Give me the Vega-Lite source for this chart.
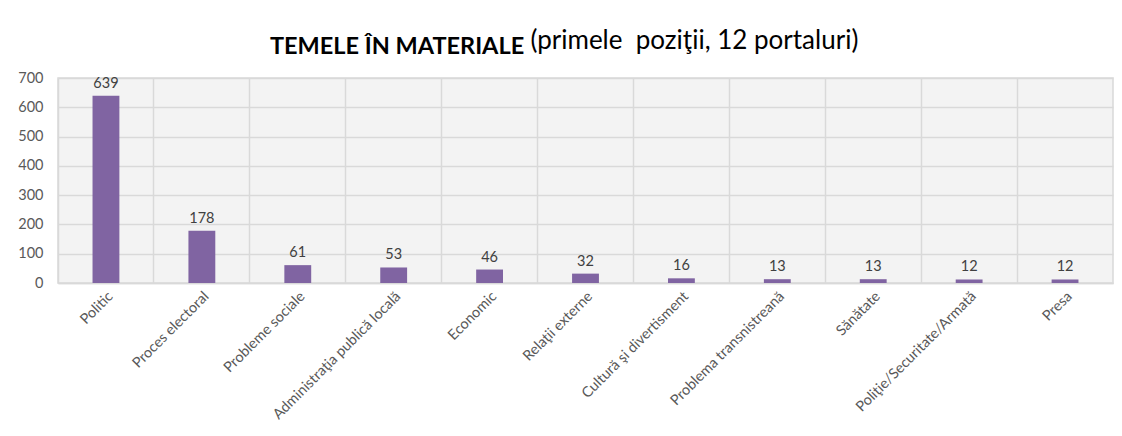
{
  "$schema": "https://vega.github.io/schema/vega-lite/v6.json",
  "width": 1055,
  "height": 205,
  "autosize": {"type": "none"},
  "padding": {"left": 58, "top": 78, "right": 9, "bottom": 153},
  "background": "white",
  "title": {
    "text": "TEMELE ÎN MATERIALE",
    "anchor": "start",
    "frame": "group",
    "dx": 212,
    "offset": -50,
    "baseline": "alphabetic",
    "font": "Lato",
    "fontSize": 23.5,
    "fontWeight": "bold",
    "color": "#000000"
  },
  "config": {
    "view": {"fill": "#f3f3f3", "stroke": "#d9d9d9", "strokeWidth": 1.5},
    "axis": {"labelFont": "Lato", "labelColor": "#595959", "labelFontSize": 14.5}
  },
  "data": {
    "values": [
      {"tema": "Politic", "n": 639},
      {"tema": "Proces electoral", "n": 178},
      {"tema": "Probleme sociale", "n": 61},
      {"tema": "Administraţia publică locală", "n": 53},
      {"tema": "Economic", "n": 46},
      {"tema": "Relaţii externe", "n": 32},
      {"tema": "Cultură şi divertisment", "n": 16},
      {"tema": "Problema transnistreană", "n": 13},
      {"tema": "Sănătate", "n": 13},
      {"tema": "Poliţie/Securitate/Armată", "n": 12},
      {"tema": "Presa", "n": 12}
    ]
  },
  "encoding": {
    "x": {
      "field": "tema",
      "type": "nominal",
      "sort": null,
      "scale": {"paddingInner": 0, "paddingOuter": 0},
      "axis": {
        "title": null,
        "labelAngle": -45,
        "labelPadding": 6,
        "ticks": false,
        "domain": true,
        "domainColor": "#d9d9d9",
        "domainWidth": 1.5,
        "grid": true,
        "gridColor": "#d9d9d9",
        "gridWidth": 1.5,
        "bandPosition": 0,
        "labelLimit": 300
      }
    },
    "y": {
      "field": "n",
      "type": "quantitative",
      "scale": {"domain": [0, 700], "nice": false},
      "axis": {
        "values": [0, 100, 200, 300, 400, 500, 600, 700],
        "domain": false,
        "ticks": false,
        "labelPadding": 15,
        "grid": true,
        "gridColor": "#d9d9d9",
        "gridWidth": 1.5,
        "title": "(primele\u00a0 poziţii, 12 portaluri)",
        "titleAngle": 0,
        "titleAlign": "left",
        "titleBaseline": "alphabetic",
        "titleX": 472,
        "titleY": -30,
        "titleFont": "Lato",
        "titleFontSize": 26,
        "titleFontWeight": "normal",
        "titleColor": "#000000"
      }
    }
  },
  "layer": [
    {
      "mark": {"type": "bar", "color": "#8064A2", "width": {"band": 0.28}}
    },
    {
      "mark": {"type": "text", "baseline": "alphabetic", "dy": -8, "font": "Lato", "fontSize": 14.5, "color": "#404040"},
      "encoding": {"text": {"field": "n", "type": "quantitative"}}
    }
  ]
}
